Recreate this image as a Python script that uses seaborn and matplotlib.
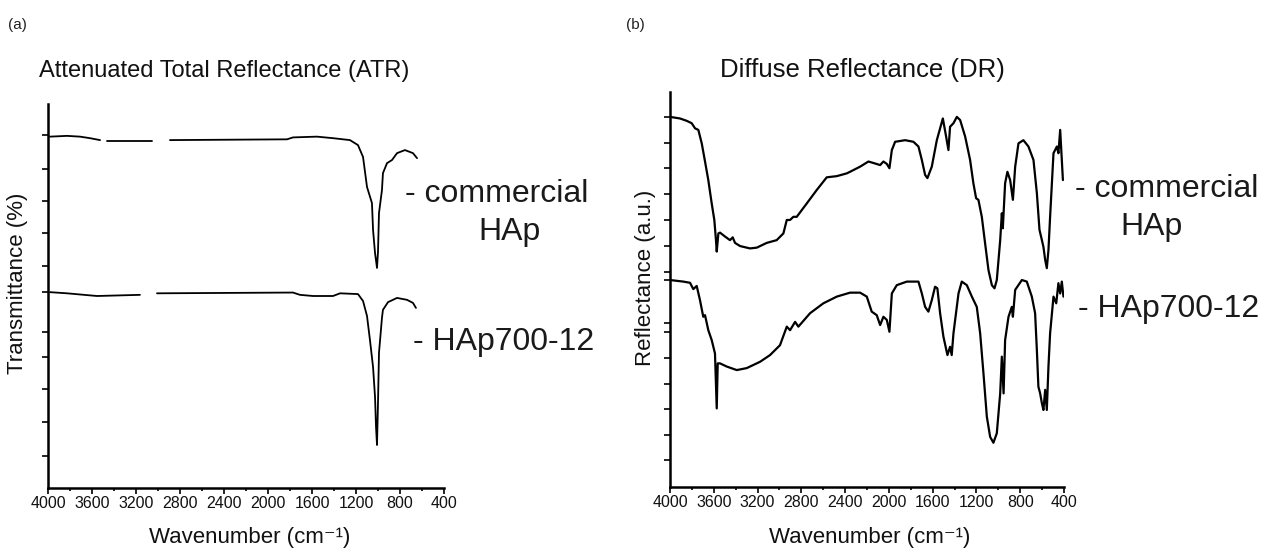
import numpy as np
import pandas as pd
import matplotlib
matplotlib.use("Agg")
import matplotlib.pyplot as plt
from matplotlib.ticker import MultipleLocator
import seaborn as sns

sns.set_theme(style="ticks")
plt.rcParams["font.family"] = ["Liberation Sans", "DejaVu Sans"]

# ---- (a) ATR spectra: wavenumber (cm-1) and transmittance (arb. offset) ----
atr_commercial_wn = [3982, 3827, 3709, 3618, 3527, 3464, 3055, 2891, 1827, 1773,
                     1555, 1409, 1255, 1182, 1136, 1100, 1055, 1045, 1027, 1009,
                     1000, 991, 964, 955, 918, 873, 827, 755, 682, 645]
atr_commercial_t = [91.5, 91.7, 91.5, 91.1, 90.6, 90.4, 90.4, 90.6, 90.8, 91.3,
                    91.5, 91.1, 90.6, 89.3, 86.2, 78.4, 74.2, 67.2, 61.2, 57.3,
                    61.5, 71.6, 77.6, 82.0, 84.6, 85.4, 87.2, 88.0, 87.2, 85.9]
atr_commercial_gaps = [3527, 3055]   # scan breaks start after these points

atr_hap700_wn = [3982, 3827, 3555, 3164, 3009, 1773, 1709, 1591, 1409, 1345,
                 1182, 1136, 1100, 1073, 1045, 1027, 1018, 1009, 1000, 991,
                 964, 955, 909, 827, 736, 682, 655]
atr_hap700_t = [51.0, 50.7, 50.0, 50.3, 50.7, 50.9, 50.3, 50.0, 50.0, 50.7,
                50.5, 48.7, 44.8, 38.5, 31.5, 23.7, 15.9, 11.2, 22.1, 35.2,
                44.3, 46.4, 48.4, 49.5, 49.0, 48.2, 46.9]
atr_hap700_gaps = [3164]

# ---- (b) DR spectra: wavenumber (cm-1) and reflectance (a.u.) ----
dr_commercial_wn = [4000, 3909, 3847, 3802, 3771, 3741, 3710, 3680, 3650, 3619,
                    3595, 3580, 3573, 3558, 3543, 3497, 3452, 3427, 3406, 3360,
                    3269, 3207, 3116, 3025, 2964, 2933, 2903, 2873, 2842, 2750,
                    2659, 2568, 2476, 2385, 2355, 2263, 2187, 2126, 2080, 2050,
                    2019, 1995, 1973, 1943, 1852, 1776, 1730, 1699, 1669, 1648,
                    1608, 1562, 1532, 1507, 1477, 1456, 1441, 1410, 1379, 1349,
                    1303, 1258, 1228, 1203, 1182, 1151, 1121, 1090, 1059, 1035,
                    1014, 983, 968, 959, 938, 917, 892, 867, 846, 816,
                    771, 725, 679, 648, 624, 602, 588, 572, 557, 542,
                    527, 496, 465, 451, 435, 420, 410]
dr_commercial_r = [93.7, 93.3, 92.7, 92.1, 90.8, 90.4, 87.0, 82.4, 77.7, 71.8,
                   67.6, 62.5, 59.6, 64.2, 64.4, 63.4, 62.5, 63.2, 61.8, 61.0,
                   60.4, 60.6, 61.8, 62.5, 64.2, 67.6, 67.6, 68.4, 68.4, 71.8,
                   75.2, 78.4, 78.7, 79.4, 79.8, 81.1, 82.4, 81.9, 81.5, 82.4,
                   81.8, 80.7, 85.3, 87.4, 87.8, 87.4, 86.2, 82.8, 79.0, 78.2,
                   81.1, 87.8, 90.8, 93.3, 88.7, 85.3, 91.2, 92.1, 93.7, 92.9,
                   88.7, 82.8, 76.9, 73.1, 72.7, 68.4, 61.7, 54.9, 51.1, 50.3,
                   52.4, 62.5, 69.3, 65.5, 76.9, 79.8, 77.7, 72.7, 81.1, 87.0,
                   87.8, 86.2, 82.8, 74.4, 65.1, 62.5, 60.8, 57.5, 55.4, 60.0,
                   68.4, 84.5, 86.2, 84.5, 90.4, 82.8, 77.7]

dr_hap700_wn = [4000, 3878, 3817, 3787, 3756, 3726, 3696, 3680, 3650, 3619,
                3589, 3573, 3564, 3543, 3482, 3390, 3299, 3177, 3086, 2995,
                2933, 2903, 2857, 2827, 2720, 2599, 2476, 2355, 2263, 2202,
                2157, 2111, 2080, 2050, 2019, 1995, 1973, 1928, 1836, 1730,
                1699, 1669, 1639, 1608, 1578, 1557, 1532, 1502, 1465, 1441,
                1426, 1410, 1364, 1334, 1288, 1242, 1197, 1166, 1136, 1105,
                1075, 1045, 1014, 983, 968, 952, 938, 907, 877, 867,
                846, 785, 740, 694, 664, 648, 634, 618, 602, 588,
                572, 557, 542, 527, 496, 471, 451, 435, 420, 405]
dr_hap700_r = [52.4, 52.0, 51.7, 50.1, 50.9, 47.3, 43.1, 43.5, 39.7, 37.2,
               33.8, 19.9, 31.3, 31.3, 30.5, 29.6, 30.1, 31.7, 33.4, 35.9,
               40.6, 39.7, 41.8, 40.6, 44.0, 46.5, 48.2, 49.2, 49.2, 48.2,
               44.4, 43.5, 41.0, 43.1, 42.3, 39.3, 49.0, 51.1, 52.0, 52.0,
               49.0, 45.6, 44.4, 47.3, 50.7, 50.3, 44.0, 38.1, 33.4, 35.5,
               33.4, 38.9, 49.0, 52.0, 51.1, 48.2, 45.6, 38.9, 28.8, 17.8,
               12.7, 11.2, 13.6, 23.7, 33.0, 23.7, 37.2, 43.1, 45.6, 43.1,
               49.9, 52.4, 52.0, 48.2, 44.0, 34.7, 25.4, 23.7, 21.2, 19.5,
               24.6, 19.5, 30.5, 38.9, 48.2, 46.5, 51.6, 49.0, 52.0, 48.2]

x_ticks = [4000, 3600, 3200, 2800, 2400, 2000, 1600, 1200, 800, 400]
atr_yticks = [91.9, 83.1, 74.7, 66.4, 57.8, 51.0, 40.6, 34.1, 25.8, 17.2, 8.3]
dr_yticks = [93.7, 87.1, 80.8, 74.2, 67.6, 61.0, 54.4, 52.4, 41.5, 39.2,
             32.7, 26.1, 19.7, 13.2, 6.8]


def spectrum_frame(wn, val, gaps=()):
    """Long-form table; each unbroken stretch of the scan gets its own unit id."""
    seg = [sum(w < g for g in gaps) for w in wn]
    return pd.DataFrame({"wn": wn, "val": val, "seg": seg})


W, H = 1264, 548
fig = plt.figure(figsize=(W / 100, H / 100), dpi=100)
ax_a = fig.add_axes([48 / W, 1 - 488 / H, 396 / W, 384 / H])
ax_b = fig.add_axes([670 / W, 1 - 487 / H, 394 / W, 395 / H])

panels = [
    (ax_a, [(atr_commercial_wn, atr_commercial_t, atr_commercial_gaps),
            (atr_hap700_wn, atr_hap700_t, atr_hap700_gaps)], atr_yticks, 1.3),
    (ax_b, [(dr_commercial_wn, dr_commercial_r, []),
            (dr_hap700_wn, dr_hap700_r, [])], dr_yticks, 1.6),
]

for ax, curves, yt, lw in panels:
    for wn, val, gaps in curves:
        df = spectrum_frame(wn, val, gaps)
        sns.lineplot(data=df, x="wn", y="val", units="seg", estimator=None,
                     sort=False, color="black", linewidth=lw, ax=ax)
    ax.set_xlim(4000, 400)
    ax.set_ylim(0, 100)
    ax.set_xticks(x_ticks)
    ax.set_xticklabels([str(t) for t in x_ticks], fontsize=11.5, color="#111111")
    ax.xaxis.set_minor_locator(MultipleLocator(200))
    ax.set_yticks(yt)
    ax.set_yticklabels([])
    ax.tick_params(axis="both", which="major", direction="out", length=4,
                   width=1.2, color="black", pad=2)
    ax.tick_params(axis="x", which="minor", direction="out", length=2.5,
                   width=1.2, color="black")
    for s in ("top", "right"):
        ax.spines[s].set_visible(False)
    for s in ("left", "bottom"):
        ax.spines[s].set_color("black")
        ax.spines[s].set_linewidth(1.8)
    ax.set_xlabel("")
    ax.set_ylabel("")
    ax.set_facecolor("white")

txt = dict(color="#111111")
fig.text(250 / W, 1 - 537 / H, "Wavenumber (cm\u207b\u00b9)", ha="center", va="center",
         fontsize=16, **txt)
fig.text(870 / W, 1 - 537 / H, "Wavenumber (cm\u207b\u00b9)", ha="center", va="center",
         fontsize=16, **txt)
fig.text(18 / W, 1 - 283 / H, "Transmittance (%)", rotation=90, ha="center",
         va="center", fontsize=16, **txt)
fig.text(645 / W, 1 - 278 / H, "Reflectance (a.u.)", rotation=90, ha="center",
         va="center", fontsize=16, **txt)
fig.text(224 / W, 1 - 77 / H, "Attenuated Total Reflectance (ATR)", ha="center",
         va="baseline", fontsize=17, **txt)
fig.text(862 / W, 1 - 77 / H, "Diffuse Reflectance (DR)", ha="center",
         va="baseline", fontsize=18.5, **txt)

fig.text(8 / W, 1 - 25 / H, "(a)", ha="left", va="center", fontsize=11, color="#222222")
fig.text(626 / W, 1 - 25 / H, "(b)", ha="left", va="center", fontsize=11, color="#222222")

note = dict(ha="left", va="baseline", fontsize=23, color="#1a1a1a")
fig.text(405 / W, 1 - 202 / H, "- commercial", **note)
fig.text(478 / W, 1 - 240 / H, "HAp", **note)
fig.text(413 / W, 1 - 350 / H, "- HAp700-12", **note)
fig.text(1075 / W, 1 - 197 / H, "- commercial", **note)
fig.text(1120 / W, 1 - 235 / H, "HAp", **note)
fig.text(1078 / W, 1 - 317 / H, "- HAp700-12", **note)

fig.savefig("out.png", dpi=100, facecolor="white")
